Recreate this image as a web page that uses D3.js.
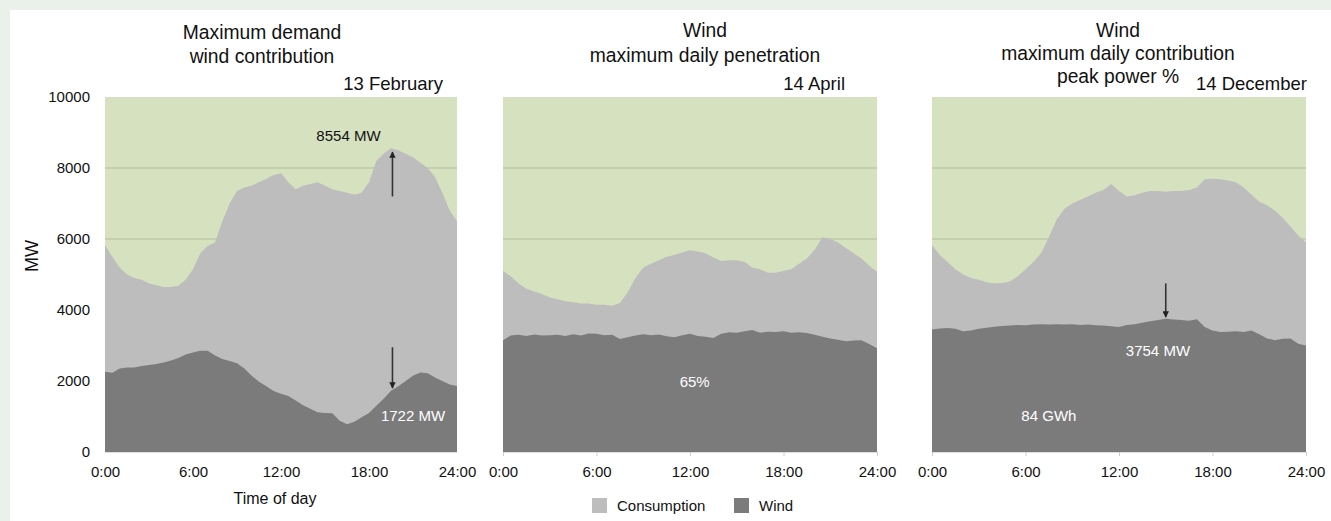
<!DOCTYPE html>
<html>
<head>
<meta charset="utf-8">
<script src="https://cdn.jsdelivr.net/npm/d3@7"></script>
<style>
  body { margin: 0; background: #eaf0ea; }
  svg { display: block; font-family: "Liberation Sans", Arial, sans-serif; }
</style>
</head>
<body>
<svg id="chart" width="1331" height="521"></svg>
<script>
// half-hourly time steps, 0:00 .. 24:00
const hours = d3.range(0, 24.01, 0.5);
const hourTicks = [0, 6, 12, 18, 24];
const hourLabels = ["0:00", "6:00", "12:00", "18:00", "24:00"];
const mwTicks = [0, 2000, 4000, 6000, 8000, 10000];

// 13 February
const febConsumption = [5830, 5500, 5200, 5000, 4900, 4850, 4750, 4700, 4650, 4650, 4680, 4850, 5150, 5600, 5800, 5900,
  6500, 7000, 7350, 7450, 7500, 7600, 7700, 7800, 7850, 7600, 7400, 7500, 7550, 7600, 7500, 7400,
  7350, 7300, 7250, 7300, 7600, 8200, 8400, 8554, 8500, 8400, 8300, 8150, 8000, 7750, 7300, 6800, 6500];
const febWind = [2260, 2230, 2350, 2380, 2380, 2420, 2450, 2480, 2520, 2580, 2650, 2750, 2800, 2850, 2850, 2720,
  2620, 2560, 2500, 2350, 2150, 1980, 1850, 1720, 1640, 1580, 1450, 1320, 1220, 1120, 1100, 1090,
  880, 780, 850, 980, 1100, 1300, 1500, 1722, 1850, 2000, 2150, 2240, 2220, 2100, 2000, 1900, 1860];

// 14 April
const aprConsumption = [5100, 4950, 4750, 4600, 4520, 4450, 4350, 4300, 4250, 4220, 4180, 4180, 4150, 4150, 4120, 4200,
  4500, 4900, 5200, 5300, 5400, 5500, 5550, 5620, 5680, 5650, 5600, 5480, 5380, 5400, 5400, 5350,
  5200, 5150, 5050, 5050, 5100, 5150, 5300, 5450, 5700, 6050, 6000, 5900, 5750, 5600, 5450, 5250, 5080];
const aprWind = [3150, 3280, 3300, 3270, 3310, 3280, 3290, 3300, 3270, 3320, 3280, 3340, 3330, 3290, 3300, 3180,
  3230, 3280, 3320, 3290, 3310, 3260, 3230, 3290, 3330, 3270, 3250, 3210, 3330, 3370, 3360, 3400,
  3440, 3360, 3390, 3380, 3400, 3360, 3370, 3350, 3300, 3250, 3200, 3160, 3120, 3140, 3150, 3040, 2920];

// 14 December
const decConsumption = [5830, 5550, 5350, 5150, 5000, 4900, 4850, 4780, 4750, 4760, 4800, 4950, 5150, 5350, 5600, 6050,
  6550, 6850, 7000, 7100, 7200, 7300, 7380, 7550, 7350, 7200, 7230, 7300, 7350, 7350, 7330, 7350,
  7350, 7380, 7450, 7680, 7700, 7680, 7650, 7600, 7450, 7250, 7050, 6950, 6800, 6600, 6350, 6100, 5900];
const decWind = [3450, 3480, 3490, 3470, 3400, 3420, 3470, 3500, 3530, 3550, 3560, 3580, 3570, 3590, 3600, 3590,
  3600, 3590, 3600, 3580, 3590, 3570, 3560, 3540, 3520, 3580, 3600, 3640, 3680, 3720, 3754, 3730,
  3720, 3700, 3740, 3520, 3420, 3380, 3390, 3400, 3380, 3420, 3320, 3200, 3150, 3190, 3200, 3050, 3000];

const panelTitles = [
  ["Maximum demand", "wind contribution"],
  ["Wind", "maximum daily penetration"],
  ["Wind", "maximum daily contribution", "peak power %"]
];
const panelDates = ["13 February", "14 April", "14 December"];

const colBg = "#d6e1bf", colGrid = "#bdc8a7", colCons = "#bdbdbd", colWind = "#7b7b7b";
const font = "Liberation Sans, Arial, sans-serif";

const svg = d3.select("#chart");
svg.append("rect").attr("x", 10).attr("y", 10).attr("width", 1321).attr("height", 511).attr("fill", "#fff");

const plotTop = 97, plotBottom = 452;
const y = d3.scaleLinear().domain([0, 10000]).range([plotBottom, plotTop]);

const panels = [
  {x0: 105, x1: 457, cons: febConsumption, wind: febWind, tickMarks: false, cx: 262, dx: 443, ty: [39, 63]},
  {x0: 503, x1: 877, cons: aprConsumption, wind: aprWind, tickMarks: true, cx: 705, dx: 845, ty: [37, 62]},
  {x0: 932, x1: 1306, cons: decConsumption, wind: decWind, tickMarks: true, cx: 1118, dx: 1307, ty: [37, 60, 83]}
];

panels.forEach((p, i) => {
  const x = d3.scaleLinear().domain([0, 24]).range([p.x0, p.x1]);
  const g = svg.append("g");

  g.append("rect").attr("x", p.x0).attr("y", plotTop)
    .attr("width", p.x1 - p.x0).attr("height", plotBottom - plotTop).attr("fill", colBg);

  g.selectAll(".grid").data([6000, 8000]).join("line")
    .attr("x1", p.x0).attr("x2", p.x1)
    .attr("y1", d => y(d)).attr("y2", d => y(d))
    .attr("stroke", colGrid).attr("stroke-width", 1.5);

  const area = vals => d3.area()
    .x((d, j) => x(hours[j]))
    .y0(y(0))
    .y1(d => y(d))(vals);

  g.append("path").attr("d", area(p.cons)).attr("fill", colCons);
  g.append("path").attr("d", area(p.wind)).attr("fill", colWind);

  // x axis
  const ax = g.append("g").attr("transform", "translate(0," + plotBottom + ")")
    .call(d3.axisBottom(x).tickValues(hourTicks).tickFormat((d, j) => hourLabels[j])
      .tickSize(p.tickMarks ? 4 : 0).tickPadding(p.tickMarks ? 10 : 14));
  ax.select(".domain").attr("stroke", "#ddd");
  ax.selectAll(".tick line").attr("stroke", "#ccc");
  ax.selectAll("text").attr("font-size", 15).attr("fill", "#111").attr("font-family", font);

  // titles
  const tt = g.append("text").attr("text-anchor", "middle").attr("font-size", 19.3).attr("fill", "#111");
  panelTitles[i].forEach((t, k) => {
    tt.append("tspan").attr("x", p.cx).attr("y", p.ty[k]).text(t);
  });
  g.append("text").attr("x", p.dx).attr("y", 90)
    .attr("text-anchor", "end").attr("font-size", 18.5).attr("fill", "#111").text(panelDates[i]);

  if (i === 0) {
    const ay = g.append("g").attr("transform", "translate(" + (p.x0 - 15) + ",0)")
      .call(d3.axisLeft(y).tickValues(mwTicks).tickFormat(d3.format("d")).tickSize(0).tickPadding(0));
    ay.select(".domain").remove();
    ay.selectAll("text").attr("font-size", 15).attr("fill", "#111").attr("font-family", font);
  }
});

// axis titles
svg.append("text").attr("transform", "translate(38,256) rotate(-90)")
  .attr("text-anchor", "middle").attr("font-size", 18).attr("fill", "#111").text("MW");
svg.append("text").attr("x", 275).attr("y", 504)
  .attr("text-anchor", "middle").attr("font-size", 16).attr("fill", "#111").text("Time of day");

// annotations
const xFeb = d3.scaleLinear().domain([0, 24]).range([105, 457]);
const xApr = d3.scaleLinear().domain([0, 24]).range([503, 877]);
const xDec = d3.scaleLinear().domain([0, 24]).range([932, 1306]);

const defs = svg.append("defs");
defs.append("marker").attr("id", "arr").attr("viewBox", "0 0 10 10")
  .attr("refX", 9).attr("refY", 5).attr("markerWidth", 4).attr("markerHeight", 4)
  .attr("orient", "auto").append("path").attr("d", "M0,0L10,5L0,10z").attr("fill", "#222");

function arrow(x, v0, v1) {
  svg.append("line").attr("x1", x).attr("x2", x).attr("y1", y(v0)).attr("y2", y(v1))
    .attr("stroke", "#333").attr("stroke-width", 1.6).attr("marker-end", "url(#arr)");
}
arrow(xFeb(19.6), 7200, 8450);
arrow(xFeb(19.6), 2950, 1800);
arrow(xDec(15), 4750, 3800);

const notes = [
  {x: xFeb(16.6), v: 8750, t: "8554 MW", c: "#111"},
  {x: xFeb(21), v: 870, t: "1722 MW", c: "#fff"},
  {x: xApr(12.3), v: 1830, t: "65%", c: "#fff"},
  {x: xDec(14.5), v: 2700, t: "3754 MW", c: "#fff"},
  {x: xDec(7.5), v: 870, t: "84 GWh", c: "#fff"}
];
svg.selectAll(".note").data(notes).join("text")
  .attr("x", d => d.x).attr("y", d => y(d.v))
  .attr("text-anchor", "middle").attr("font-size", 15).attr("fill", d => d.c)
  .text(d => d.t);

// legend
const legend = [{name: "Consumption", c: colCons, x: 592}, {name: "Wind", c: colWind, x: 734}];
const lg = svg.selectAll(".lg").data(legend).join("g");
lg.append("rect").attr("x", d => d.x).attr("y", 498).attr("width", 15).attr("height", 15).attr("fill", d => d.c);
lg.append("text").attr("x", d => d.x + 25).attr("y", 511).attr("font-size", 15).attr("fill", "#111").text(d => d.name);
</script>
</body>
</html>
